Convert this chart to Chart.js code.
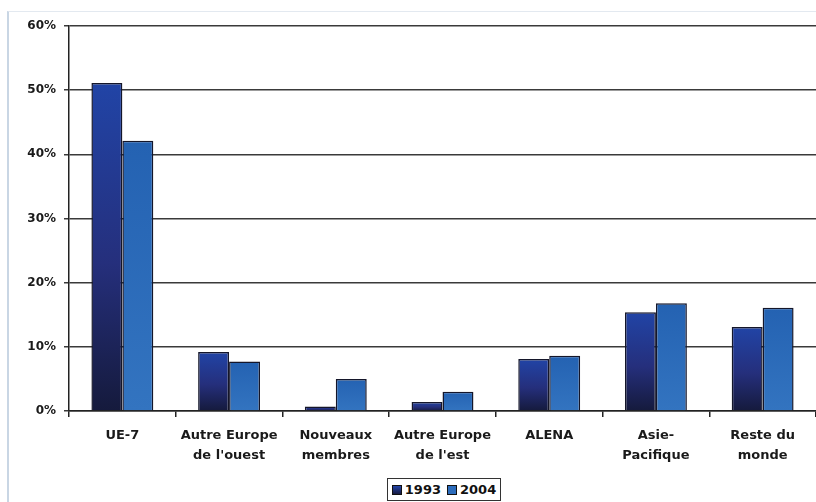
<!DOCTYPE html>
<html>
<head>
<meta charset="utf-8">
<script src="https://cdn.jsdelivr.net/npm/chart.js@4.4.1/dist/chart.umd.min.js"></script>
<style>
  html, body { margin: 0; padding: 0; background: #fff; }
  #wrap { position: relative; width: 816px; height: 502px; }
  #frame { position: absolute; left: 7px; top: 11px; width: 820px; height: 500px;
           border-left: 2px solid #c9d6e4; border-top: 1px solid #e3e9f0; }
  #legend { position: absolute; left: 387px; top: 478px; width: 112px; height: 21px;
            border: 1.5px solid #333; background: #fff;
            font: bold 13px "DejaVu Sans", sans-serif; color: #111;
            display: flex; align-items: center; justify-content: center; gap: 6px; }
  #legend span { display: inline-flex; align-items: center; }
  #legend i { display: inline-block; width: 8px; height: 8px; border: 1px solid #111; margin-right: 3px; }
</style>
</head>
<body>
<div id="wrap">
  <div id="frame"></div>
  <canvas id="mycanvas" width="816" height="502"></canvas>
  <div id="legend">
    <span><i style="background:linear-gradient(#2344a8,#161a40)"></i>1993</span>
    <span><i style="background:#2c6cbc"></i>2004</span>
  </div>
</div>
<script>
var regions = ['UE-7', ['Autre Europe', "de l'ouest"], ['Nouveaux', 'membres'],
               ['Autre Europe', "de l'est"], 'ALENA', ['Asie-', 'Pacifique'], ['Reste du', 'monde']];
var years = ['1993', '2004'];
var share1993 = [51.1, 9.2, 0.7, 1.4, 8.1, 15.4, 13.1];
var share2004 = [42.1, 7.7, 5.0, 3.0, 8.6, 16.8, 16.1];
var yTicks = [0, 10, 20, 30, 40, 50, 60];

var font = '"DejaVu Sans", sans-serif';

// vertical gradient from the bar's base to its top
function barFill(stops) {
	return function(c) {
		var chart = c.chart, y = chart.scales.y;
		if (!y || !chart.chartArea || c.raw === undefined) return stops[stops.length - 1][1];
		var top = y.getPixelForValue(c.raw), base = y.getPixelForValue(0);
		if (base - top < 1) top = base - 1;
		var g = chart.ctx.createLinearGradient(0, base, 0, top);
		stops.forEach(function(s) { g.addColorStop(s[0], s[1]); });
		return g;
	};
}

var ctx = document.getElementById('mycanvas');

var barGraph = new Chart(ctx, {
	type: 'bar',
	data: {
		labels: regions,
		datasets: [
			{
				label: years[0],
				data: share1993,
				backgroundColor: barFill([[0, '#151a3c'], [0.45, '#252f7c'], [1, '#2144a6']]),
				borderColor: '#14162a',
				borderWidth: 1.5
			},
			{
				label: years[1],
				data: share2004,
				backgroundColor: barFill([[0, '#3374c0'], [1, '#2462b2']]),
				borderColor: '#14162a',
				borderWidth: 1.5
			}
		]
	},
	options: {
		responsive: false,
		animation: false,
		layout: { padding: { top: 26, right: 0, left: 0, bottom: 0 } },
		datasets: { bar: { categoryPercentage: 0.58, barPercentage: 1 } },
		plugins: { legend: { display: false }, tooltip: { enabled: false } },
		scales: {
			x: {
				afterFit: function(s) { s.height = 91; },
				border: { color: '#222', width: 1.5 },
				grid: { drawOnChartArea: false, tickLength: 6, color: '#222', lineWidth: 1.5 },
				ticks: {
					color: '#1a1a1a', padding: 9, maxRotation: 0, autoSkip: false,
					font: { family: font, weight: 'bold', size: 13, lineHeight: 1.5 }
				}
			},
			y: {
				min: 0, max: 60,
				afterFit: function(s) { s.width = 69; },
				afterBuildTicks: function(s) { s.ticks = yTicks.map(function(v) { return { value: v }; }); },
				border: { color: '#222', width: 1.5 },
				grid: { color: '#3a3a3a', lineWidth: 1.5, tickLength: 5 },
				ticks: {
					color: '#1a1a1a', padding: 8,
					font: { family: font, weight: 'bold', size: 12 },
					callback: function(v) { return v + '%'; }
				}
			}
		}
	}
});
</script>
</body>
</html>
